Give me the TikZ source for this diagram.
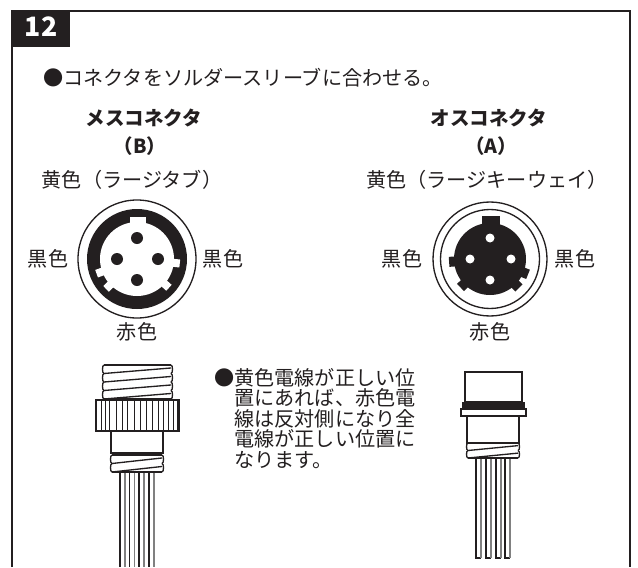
\documentclass[tikz,border=0pt]{standalone}
\usepackage{fontspec}
\setmainfont{Noto Sans CJK JP}
\definecolor{myblack}{HTML}{231F20}
\tikzset{
  label/.style={font=\fontsize{15.1pt}{15.4pt}\selectfont, text=myblack, inner sep=0pt},
  boldlabel/.style={label, font=\fontsize{14.6pt}{15pt}\selectfont\bfseries},
  part/.style={draw=myblack, line width=1pt, fill=white},
  wire/.style={draw=myblack, line width=1pt},
  greyline/.style={draw=gray, line width=1.2pt}
}
\newcommand{\drawthread}[5]{% x left, x right, y top, y bottom, turns
  \fill[white] (#1,#3) rectangle (#2,#4);
  \draw[wire] (#1,#3) -- (#2,#3);
  \foreach \turn in {1, ..., #5} {
    \pgfmathsetmacro{\ya}{#3 + (#4 - #3) * (\turn - 1) / #5}
    \pgfmathsetmacro{\yb}{#3 + (#4 - #3) * \turn / #5}
    \pgfmathsetmacro{\yc}{\yb - 0.65 * (#4 - #3) / #5}
    \draw[wire] (#1,\ya) .. controls (#1 - 2,\ya) and (#1 - 2,\yb) .. (#1,\yb) -- (#2,\yc);
    \draw[wire] (#2,\ya) .. controls (#2 + 2,\ya) and (#2 + 2,\yb) .. (#2,\yb);
  }
  \draw[wire] (#1,#4) -- (#2,#4);
}
\begin{document}
\begin{tikzpicture}[x=0.75pt, y=-0.75pt]
    \useasboundingbox (0,0) rectangle (638,567);
    % frame
    \draw[myblack, line width=1.2pt] (12,567) -- (12,11) -- (630,11) -- (630,567);
    \fill[myblack] (11,10) rectangle (70,47);
    \node[text=white, font=\fontsize{20pt}{22pt}\selectfont\bfseries] (stepno) at (41,27) {12};
    % texts
    \node[label, anchor=west] (title) at (43,78) {●コネクタをソルダースリーブに合わせる。};
    \node[boldlabel] (femalename) at (144,118) {メスコネクタ};
    \node[boldlabel] (femaleletter) at (140,146) {（B）};
    \node[boldlabel] (malename) at (489,118) {オスコネクタ};
    \node[boldlabel] (maleletter) at (491,146) {（A）};
    \node[label] (femaleyellow) at (132,180) {黄色（ラージタブ）};
    \node[label] (maleyellow) at (487,180) {黄色（ラージキーウェイ）};
    \node[label] (femaleleft) at (48,259) {黒色};
    \node[label] (femaleright) at (223,259) {黒色};
    \node[label] (femalered) at (137,332) {赤色};
    \node[label] (maleleft) at (402,259) {黒色};
    \node[label] (maleright) at (575,259) {黒色};
    \node[label] (malered) at (490,332) {赤色};
    \node[label, anchor=north west, align=left] (note) at (214,368) {●黄色電線が正しい位\\\hspace{15.1pt}置にあれば、赤色電\\\hspace{15.1pt}線は反対側になり全\\\hspace{15.1pt}電線が正しい位置に\\\hspace{15.1pt}なります。};
    % female face
    \draw[myblack, line width=1pt] (137,259) circle (59);
    \fill[myblack] (137,259) circle (50);
    \fill[white] (137,259) circle (37);
    \fill[white] (130,217) rectangle (146,232);
    \foreach \ang in {200, 224, 318, 354} {
      \fill[white, rotate around={\ang:(137,259)}] (165,255) rectangle (180,263);
    }
    \foreach \px/\py in {137/238, 117/259, 158/259, 137/280} {
      \fill[myblack] (\px,\py) circle (6);
    }
    % male face
    \draw[myblack, line width=1pt] (490,259) circle (57);
    \draw[myblack, line width=1pt] (490,259) circle (49.5);
    \fill[myblack] (490,259) circle (36);
    \fill[myblack] (482,216) rectangle (500,232);
    \foreach \ang in {184, 224, 315, 338} {
      \fill[myblack, rotate around={\ang:(490,259)}] (515,254) rectangle (531,264);
    }
    \foreach \px/\py in {490/238, 470/259, 511/259, 490/280} {
      \fill[white] (\px,\py) circle (4.5);
    }
    % female connector
    \foreach \wx in {120, 129.5, 139, 149} {
      \draw[wire] (\wx,472) -- (\wx,567);
      \draw[greyline] (\wx+4.8,472) -- (\wx+4.8,567);
    }
    \drawthread{104}{171}{365}{399}{4}
    \draw[part] (96,400) rectangle (179,431);
    \foreach \kx in {101, 105, 109, 116, 122, 127, 134, 140, 146, 152, 158, 163, 168, 173, 177} {
      \draw[wire, line width=0.7pt] (\kx,400) -- (\kx,431);
    }
    \draw[part] (111,431) rectangle (163,453);
    \draw[myblack, line width=1.6pt] (111,453) -- (163,453);
    \drawthread{112}{162}{455}{472}{2}
    % male connector
    \foreach \wx in {476, 486, 496, 505} {
      \draw[wire] (\wx,458) -- (\wx,558) -- (\wx+5,558);
      \draw[greyline] (\wx+5,558) -- (\wx+5,458);
    }
    \draw[part] (465,372) rectangle (522,402);
    \fill[myblack] (462,402) rectangle (525,409);
    \draw[part] (461,409) rectangle (526,416);
    \draw[part] (467,416) rectangle (519,443);
    \drawthread{468}{518}{443}{458}{2}
  \end{tikzpicture}
\end{document}
